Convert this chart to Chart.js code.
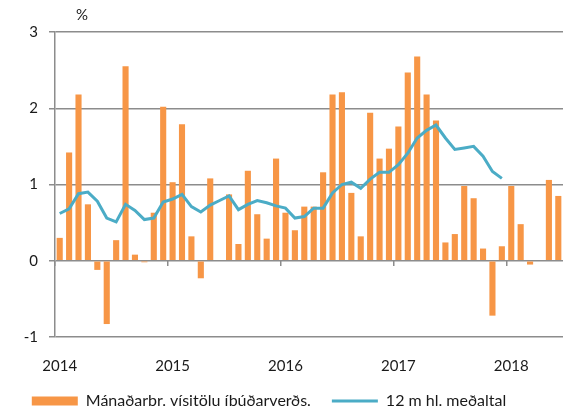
<!DOCTYPE html>
<html>
<head>
<meta charset="utf-8">
<script src="https://cdn.jsdelivr.net/npm/chart.js@4"></script>
<style>
    html, body { margin: 0; padding: 0; background: #ffffff; }
    #wrap { position: relative; width: 579px; height: 414px; }
    #unit { position: absolute; left: 76px; top: 5px; font: 15px Lato, sans-serif; color: #1a1a1a; }
</style>
</head>
<body>
<div id="wrap">
    <canvas id="chart" width="579" height="414"></canvas>
    <div id="unit">%</div>
</div>
<script>
const years = ['2014', '2015', '2016', '2017', '2018'];
const monthCount = 54;

// Mánaðarbreyting vísitölu íbúðarverðs, %
const monthlyChange = [
    0.30, 1.42, 2.18, 0.74, -0.12, -0.83, 0.27, 2.55, 0.08, -0.02, 0.63, 2.02,
    1.03, 1.79, 0.32, -0.23, 1.08, 0.00, 0.87, 0.22, 1.18, 0.61, 0.29, 1.34,
    0.63, 0.40, 0.71, 0.71, 1.16, 2.18, 2.21, 0.89, 0.32, 1.94, 1.34, 1.47,
    1.76, 2.47, 2.68, 2.18, 1.84, 0.24, 0.35, 0.98, 0.82, 0.16, -0.72, 0.19,
    0.98, 0.48, -0.05, 0.00, 1.06, 0.85
];

// 12 mánaða hlaupandi meðaltal
const movingAvg = [
    0.62, 0.68, 0.88, 0.90, 0.78, 0.56, 0.51, 0.74, 0.66, 0.54, 0.56, 0.77,
    0.81, 0.87, 0.71, 0.64, 0.73, 0.79, 0.85, 0.67, 0.74, 0.79, 0.76, 0.72,
    0.69, 0.56, 0.58, 0.69, 0.69, 0.89, 1.00, 1.03, 0.95, 1.07, 1.16, 1.16,
    1.26, 1.41, 1.61, 1.71, 1.78, 1.61, 1.46, 1.48, 1.50, 1.37, 1.17, 1.08,
    null, null, null, null, null, null
];

const labels = [];
years.forEach(y => {
    for (let m = 1; m <= 12; m++) labels.push(y + '-' + String(m).padStart(2, '0'));
});
labels.length = monthCount;

const gridColor = '#8c8c8c';
const font = { family: "Lato, 'Open Sans', sans-serif", size: 15 };

new Chart(document.getElementById('chart'), {
    type: 'bar',
    data: {
        labels: labels,
        datasets: [{
            type: 'bar',
            label: 'Mánaðarbr. vísitölu íbúðarverðs.',
            data: monthlyChange,
            backgroundColor: '#f79646',
            borderWidth: 0,
            categoryPercentage: 1,
            barPercentage: 0.65,
            pointStyle: 'rect',
            order: 1
        }, {
            type: 'line',
            label: '12 m hl. meðaltal',
            data: movingAvg,
            borderColor: '#4bacc6',
            backgroundColor: '#4bacc6',
            borderWidth: 3,
            pointRadius: 0,
            tension: 0,
            fill: false,
            pointStyle: 'line',
            order: 0
        }]
    },
    options: {
        responsive: false,
        animation: false,
        layout: {
            padding: { top: 32, right: 16, left: -25, bottom: -5 }
        },
        plugins: {
            tooltip: { enabled: false },
            legend: {
                display: true,
                position: 'bottom',
                labels: {
                    color: '#1a1a1a',
                    font: { family: font.family, size: 16 },
                    usePointStyle: true,
                    pointStyleWidth: 46,
                    boxHeight: 9,
                    padding: 21,
                    sort: (a, b) => a.datasetIndex - b.datasetIndex
                }
            }
        },
        scales: {
            x: {
                position: { y: 0 },
                offset: true,
                grid: {
                    display: true,
                    offset: true,
                    drawOnChartArea: false,
                    drawTicks: true,
                    tickLength: 5,
                    lineWidth: 1.5,
                    color: ctx => (ctx.index % 12 === 0 ? gridColor : 'rgba(0,0,0,0)')
                },
                border: { display: false },
                ticks: { display: false, autoSkip: false }
            },
            x2: {
                type: 'category',
                position: 'bottom',
                offset: true,
                grid: { display: false },
                border: { display: false },
                ticks: {
                    autoSkip: false,
                    maxRotation: 0,
                    padding: 12,
                    color: '#1a1a1a',
                    font: font,
                    callback: (v, i) => (i % 12 === 0 ? years[i / 12] : null)
                },
                afterFit: scale => { scale.height = 35; }
            },
            y: {
                min: -1,
                max: 3,
                grid: {
                    color: gridColor,
                    lineWidth: 1.5,
                    drawTicks: true,
                    tickLength: 6
                },
                border: { color: gridColor, width: 1.5 },
                ticks: {
                    stepSize: 1,
                    padding: 11,
                    color: '#1a1a1a',
                    font: font
                },
                afterFit: scale => { scale.width = 80; }
            }
        }
    }
});
</script>
</body>
</html>
